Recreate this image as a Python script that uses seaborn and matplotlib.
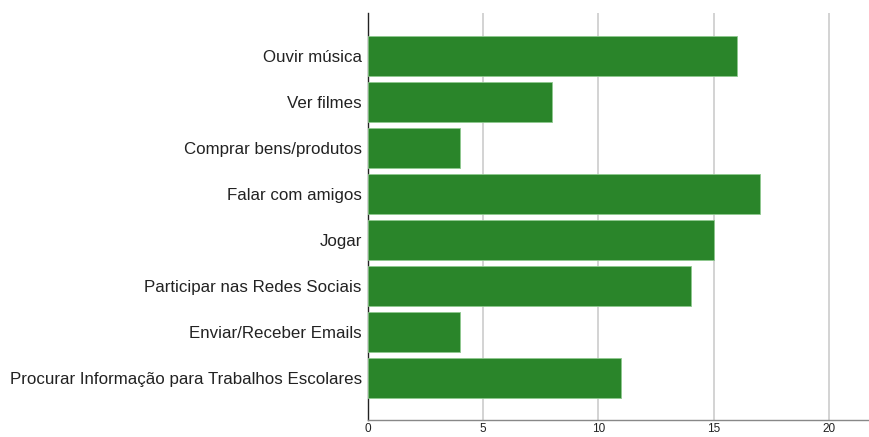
import pandas as pd
import matplotlib.pyplot as plt
import seaborn as sns

categories = ['Ouvir música', 'Ver filmes', 'Comprar bens/produtos', 'Falar com amigos',
              'Jogar', 'Participar nas Redes Sociais', 'Enviar/Receber Emails',
              'Procurar Informação para Trabalhos Escolares']
counts = [16, 8, 4, 17, 15, 14, 4, 11]
x_ticks = [0, 5, 10, 15, 20]

df = pd.DataFrame({'atividade': categories, 'n': counts})

sns.set_style('white')
plt.rcParams['font.family'] = ['Liberation Sans', 'DejaVu Sans']

fig = plt.figure(figsize=(8.7, 4.37), dpi=100)
ax = fig.add_axes([368 / 870, 17 / 437, 500 / 870, 407 / 437])
sns.barplot(data=df, x='n', y='atividade', color='#2a852a', saturation=1,
            width=0.87, edgecolor='#8fc98f', linewidth=0.6, ax=ax, zorder=3)

ax.set_xlim(0, 21.7)
ax.set_ylim(7.92, -0.93)
ax.set_xticks(x_ticks)
ax.set_xticklabels([str(t) for t in x_ticks], fontsize=8.5, color='#222222')
ax.tick_params(axis='y', labelsize=12.2, length=0, pad=4.5, labelcolor='#222222')
ax.tick_params(axis='x', length=0, pad=2.5)
ax.xaxis.grid(True, color='#cccccc', linewidth=1.2, zorder=0)
ax.set_axisbelow(True)
ax.set_xlabel('')
ax.set_ylabel('')

for s in ['top', 'right']:
    ax.spines[s].set_visible(False)
ax.spines['left'].set_color('#222222')
ax.spines['left'].set_linewidth(1)
ax.spines['bottom'].set_color('#888888')
ax.spines['bottom'].set_linewidth(1)

fig.savefig('out.png', dpi=100)
